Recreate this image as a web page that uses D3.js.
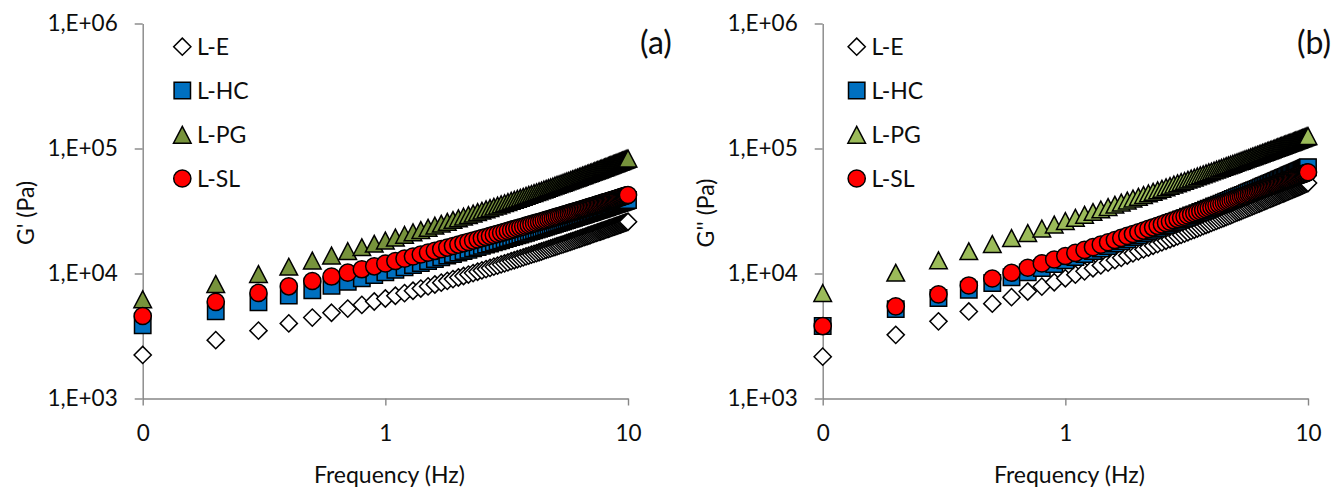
<!DOCTYPE html>
<html>
<head>
<meta charset="utf-8">
<script src="https://cdn.jsdelivr.net/npm/d3@7"></script>
<style>
  body { margin: 0; background: #ffffff; }
  svg { display: block; font-family: Lato, "Open Sans", sans-serif; }
</style>
</head>
<body>
<svg id="chart" width="1344" height="490"></svg>
<script>
// ---------------- DATA ----------------
const frequencies = [
  0.1,0.2,0.3,0.4,0.5,0.6,0.7,0.8,0.9,1.0,
  1.1,1.2,1.3,1.4,1.5,1.6,1.7,1.8,1.9,2.0,
  2.1,2.2,2.3,2.4,2.5,2.6,2.7,2.8,2.9,3.0,
  3.1,3.2,3.3,3.4,3.5,3.6,3.7,3.8,3.9,4.0,
  4.1,4.2,4.3,4.4,4.5,4.6,4.7,4.8,4.9,5.0,
  5.1,5.2,5.3,5.4,5.5,5.6,5.7,5.8,5.9,6.0,
  6.1,6.2,6.3,6.4,6.5,6.6,6.7,6.8,6.9,7.0,
  7.1,7.2,7.3,7.4,7.5,7.6,7.7,7.8,7.9,8.0,
  8.1,8.2,8.3,8.4,8.5,8.6,8.7,8.8,8.9,9.0,
  9.1,9.2,9.3,9.4,9.5,9.6,9.7,9.8,9.9,10.0
];

const seriesNames = ["L-E", "L-HC", "L-PG", "L-SL"];

// Panel (a): G' (Pa)
const gPrime_LE = [
  2230,2930,3490,3990,4440,4850,5240,5610,5970,6310,
  6640,6960,7280,7580,7880,8170,8450,8730,9020,9290,
  9550,9810,10080,10330,10590,10840,11080,11340,11570,11820,
  12060,12290,12540,12760,13000,13220,13450,13690,13910,14140,
  14360,14570,14790,15000,15220,15450,15660,15870,16080,16300,
  16520,16710,16920,17120,17330,17540,17750,17940,18160,18350,
  18550,18750,18950,19150,19360,19570,19750,19960,20150,20330,
  20530,20720,20910,21110,21300,21500,21670,21870,22070,22250,
  22430,22640,22810,23000,23180,23360,23580,23740,23920,24110,
  24300,24500,24650,24850,25050,25200,25410,25570,25780,25940
];
const gPrime_LHC = [
  3850,4980,5870,6650,7350,7990,8590,9170,9710,10230,
  10730,11220,11700,12150,12600,13040,13460,13890,14310,14710,
  15110,15500,15900,16270,16650,17020,17390,17750,18110,18470,
  18820,19170,19530,19850,20200,20530,20870,21210,21530,21850,
  22190,22490,22800,23110,23440,23770,24070,24370,24680,25000,
  25310,25600,25880,26180,26480,26780,27090,27360,27670,27950,
  28230,28510,28800,29100,29390,29680,29940,30250,30510,30780,
  31050,31320,31600,31870,32160,32440,32670,32960,33270,33510,
  33750,34050,34310,34570,34820,35080,35400,35610,35870,36150,
  36410,36680,36900,37180,37460,37680,37970,38200,38490,38730
];
const gPrime_LPG = [
  6220,8240,9890,11340,12680,13920,15100,16230,17310,18370,
  19380,20370,21350,22290,23230,24150,25030,25920,26820,27670,
  28510,29340,30200,30990,31820,32620,33420,34220,34990,35790,
  36540,37330,38120,38830,39610,40340,41100,41850,42580,43310,
  44060,44750,45470,46170,46900,47660,48330,49040,49750,50470,
  51190,51860,52520,53200,53900,54600,55310,55940,56660,57320,
  57980,58640,59310,60020,60700,61400,62000,62730,63370,63980,
  64620,65280,65940,66580,67260,67950,68510,69210,69910,70490,
  71080,71820,72440,73040,73660,74280,75050,75570,76210,76850,
  77520,78170,78710,79400,80060,80630,81320,81870,82600,83180
];
const gPrime_LSL = [
  4570,5930,6990,7900,8710,9460,10150,10810,11420,12020,
  12590,13140,13680,14190,14700,15190,15660,16130,16600,17040,
  17480,17910,18350,18760,19170,19580,19970,20370,20760,21160,
  21530,21910,22310,22650,23030,23390,23750,24120,24460,24810,
  25170,25490,25830,26160,26510,26860,27170,27500,27830,28160,
  28490,28790,29100,29410,29730,30040,30370,30650,30980,31270,
  31560,31860,32160,32470,32780,33090,33360,33680,33970,34240,
  34520,34810,35100,35380,35680,35970,36220,36520,36830,37090,
  37340,37650,37920,38180,38440,38710,39040,39250,39540,39810,
  40100,40380,40600,40880,41170,41400,41690,41920,42230,42460
];

// Panel (b): G'' (Pa)
const gDouble_LE = [
  2160,3230,4140,4970,5740,6470,7180,7860,8510,9160,
  9790,10410,11020,11610,12200,12780,13350,13920,14490,15040,
  15590,16120,16680,17200,17750,18270,18790,19320,19830,20360,
  20860,21380,21910,22380,22900,23390,23900,24410,24890,25390,
  25890,26360,26830,27320,27810,28330,28790,29260,29750,30230,
  30730,31190,31640,32100,32580,33070,33550,33980,34480,34930,
  35390,35840,36310,36800,37270,37750,38180,38670,39110,39540,
  39980,40430,40890,41360,41810,42290,42690,43160,43650,44060,
  44480,44970,45410,45840,46270,46700,47240,47600,48080,48530,
  48980,49440,49830,50290,50780,51170,51660,52050,52550,52970
];
const gDouble_LHC = [
  3800,5190,6360,7410,8390,9320,10210,11080,11910,12740,
  13530,14320,15100,15850,16600,17340,18070,18790,19530,20230,
  20930,21630,22350,23020,23720,24400,25070,25750,26410,27100,
  27750,28430,29120,29730,30410,31050,31710,32380,33010,33650,
  34320,34930,35560,36190,36860,37520,38130,38750,39400,40050,
  40700,41300,41900,42530,43160,43800,44460,45020,45690,46300,
  46910,47520,48150,48790,49430,50080,50640,51320,51900,52490,
  53090,53690,54330,54940,55580,56210,56750,57410,58060,58620,
  59180,59880,60470,61030,61620,62230,62960,63440,64070,64700,
  65340,65960,66490,67160,67800,68330,68990,69550,70240,70790
];
const gDouble_LPG = [
  6980,10150,12760,15080,17210,19190,21080,22880,24610,26300,
  27910,29510,31070,32570,34050,35500,36910,38320,39740,41080,
  42420,43740,45090,46350,47650,48920,50160,51410,52620,53880,
  55050,56270,57520,58630,59840,60990,62150,63330,64430,65580,
  66760,67820,68920,70030,71160,72320,73360,74430,75510,76620,
  77740,78750,79770,80820,81870,82930,84030,85000,86100,87100,
  88100,89130,90160,91200,92260,93300,94230,95320,96270,97230,
  98170,99170,100200,101200,102200,103200,104000,105100,106100,107000,
  107900,109000,109900,110800,111800,112700,113800,114600,115600,116500,
  117500,118500,119300,120300,121300,122100,123100,124000,125100,125900
];
const gDouble_LSL = [
  3800,5460,6810,8020,9120,10140,11120,12040,12940,13800,
  14630,15450,16250,17020,17780,18530,19250,19970,20700,21380,
  22060,22730,23430,24070,24740,25390,26020,26660,27280,27920,
  28530,29140,29790,30340,30960,31540,32140,32750,33320,33890,
  34490,35030,35600,36150,36730,37320,37860,38400,38960,39530,
  40090,40600,41130,41660,42190,42740,43290,43770,44350,44850,
  45360,45870,46390,46930,47460,48000,48470,49030,49510,50000,
  50490,50990,51480,51980,52500,53020,53460,53990,54520,54960,
  55410,55960,56440,56910,57370,57850,58430,58820,59310,59800,
  60300,60810,61200,61720,62230,62630,63170,63590,64120,64570
];

const yTickValues = [1e3, 1e4, 1e5, 1e6];
const yTickLabels = ["1,E+03", "1,E+04", "1,E+05", "1,E+06"];
const xTickValues = [0.1, 1, 10];
const xTickLabels = ["0", "1", "10"];
const xTitle = "Frequency (Hz)";

// ---------------- STYLE / LAYOUT ----------------
const TOP = 23.5, BOTTOM = 398.5;
const AXIS_COLOR = "#868686";
const TEXT_COLOR = "#0d0d0d";

const panels = [
  { left: 142.7, right: 628, label: "(a)", labelX: 656, yTitle: "G' (Pa)", yTitleX: 34,
    legendX: 182.3, legendTextX: 197,
    data: [gPrime_LE, gPrime_LHC, gPrime_LPG, gPrime_LSL], triColor: "#77933C" },
  { left: 822.7, right: 1308, label: "(b)", labelX: 1314, yTitle: "G'' (Pa)", yTitleX: 714,
    legendX: 856.7, legendTextX: 871.5,
    data: [gDouble_LE, gDouble_LHC, gDouble_LPG, gDouble_LSL], triColor: "#9BBB59" }
];

const shapes = ["diamond", "square", "triangle", "circle"];
function shapeFill(i, panel) {
  return ["#FFFFFF", "#0070C0", panel.triColor, "#FF0000"][i];
}
function markerPath(shape) {
  switch (shape) {
    case "diamond": { const r = 8.6; return `M0,${-r}L${r},0L0,${r}L${-r},0Z`; }
    case "square": { const h = 8.2; return `M${-h},${-h}H${h}V${h}H${-h}Z`; }
    case "triangle": { const w = 8.8, h = 8.4; return `M0,${-h}L${w},${h}L${-w},${h}Z`; }
    case "circle": { const r = 8.6; return `M${r},0A${r},${r} 0 1,1 ${-r},0A${r},${r} 0 1,1 ${r},0Z`; }
  }
}

const svg = d3.select("#chart");

panels.forEach(panel => {
  const x = d3.scaleLog().domain([0.1, 10]).range([panel.left, panel.right]);
  const y = d3.scaleLog().domain([1e3, 1e6]).range([BOTTOM, TOP]);

  // Y axis
  const yAxis = svg.append("g")
    .attr("transform", `translate(${panel.left},0)`)
    .call(d3.axisLeft(y).tickValues(yTickValues)
      .tickFormat((d, i) => yTickLabels[i])
      .tickSize(8).tickSizeOuter(0).tickPadding(17));
  // X axis
  const xAxis = svg.append("g")
    .attr("transform", `translate(0,${BOTTOM})`)
    .call(d3.axisBottom(x).tickValues(xTickValues)
      .tickFormat((d, i) => xTickLabels[i])
      .tickSize(7).tickSizeOuter(0).tickPadding(20));

  [yAxis, xAxis].forEach(ax => {
    ax.selectAll("path.domain").attr("stroke", AXIS_COLOR).attr("stroke-width", 1.4);
    ax.selectAll(".tick line").attr("stroke", AXIS_COLOR).attr("stroke-width", 1.4);
    ax.selectAll(".tick text").attr("fill", TEXT_COLOR)
      .style("font-family", "Lato, 'Open Sans', sans-serif").style("font-size", "22.5px");
  });

  // axis titles
  svg.append("text")
    .attr("x", (panel.left + panel.right) / 2 + 4).attr("y", 482.5)
    .attr("text-anchor", "middle").attr("fill", TEXT_COLOR)
    .style("font-size", "23px").text(xTitle);
  svg.append("text")
    .attr("transform", `translate(${panel.yTitleX},213) rotate(-90)`)
    .attr("text-anchor", "middle").attr("fill", TEXT_COLOR)
    .style("font-size", "23px").text(panel.yTitle);

  // panel label
  svg.append("text")
    .attr("x", panel.labelX).attr("y", 54)
    .attr("text-anchor", "middle").attr("fill", TEXT_COLOR)
    .style("font-size", "32px").text(panel.label);

  // data series (drawn in order, later ones on top)
  panel.data.forEach((vals, i) => {
    const pts = frequencies.map((f, k) => ({ f: f, v: vals[k] }));
    svg.append("g")
      .selectAll("path")
      .data(pts)
      .join("path")
      .attr("transform", d => `translate(${x(d.f)},${y(d.v)})`)
      .attr("d", markerPath(shapes[i]))
      .attr("fill", shapeFill(i, panel))
      .attr("stroke", "#000")
      .attr("stroke-width", 1.5)
      .attr("stroke-linejoin", "miter");
  });

  // legend
  const legendRows = [46.7, 90.5, 134.8, 178.5];
  seriesNames.forEach((name, i) => {
    svg.append("path")
      .attr("transform", `translate(${panel.legendX},${legendRows[i]})`)
      .attr("d", markerPath(shapes[i]))
      .attr("fill", shapeFill(i, panel))
      .attr("stroke", "#000").attr("stroke-width", 1.5);
    svg.append("text")
      .attr("x", panel.legendTextX).attr("y", legendRows[i])
      .attr("dy", "0.36em").attr("fill", TEXT_COLOR)
      .style("font-size", "23px").text(name);
  });
});
</script>
</body>
</html>
